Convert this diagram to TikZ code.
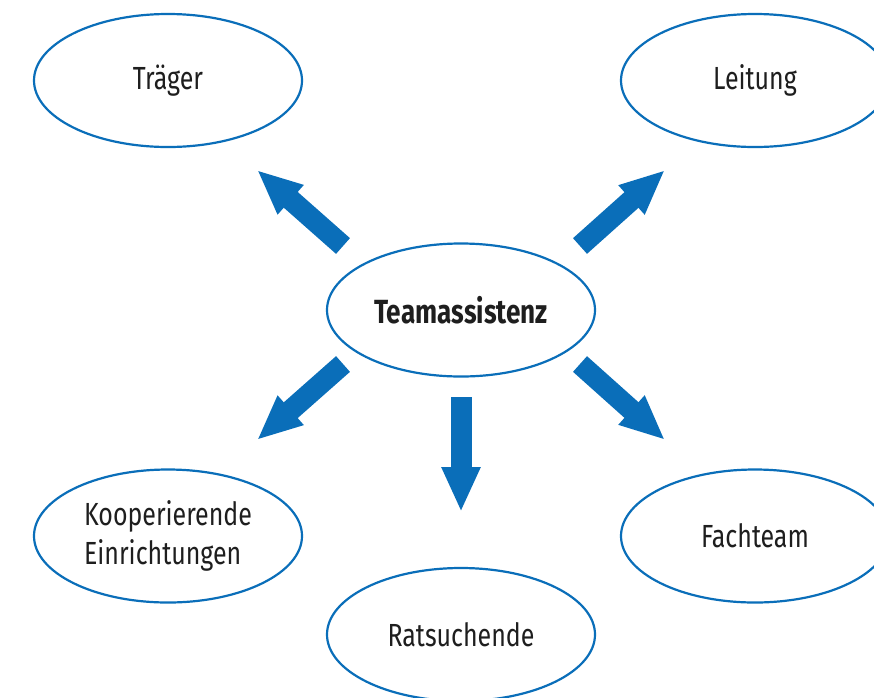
\documentclass[tikz,border=0pt]{standalone}
\usepackage{fontspec}
\setmainfont{Fira Sans}[FakeStretch=0.78]
\usetikzlibrary{shapes.geometric,arrows.meta}
\definecolor{tblue}{RGB}{10,110,185}
\definecolor{ttext}{RGB}{30,30,30}
\begin{document}
\begin{tikzpicture}[x=1pt,y=-1pt,
  oval/.style={ellipse,draw=tblue,line width=2.2pt,fill=white,inner sep=0pt,
    minimum width=268pt,minimum height=133pt,text=ttext,font=\fontsize{32}{39}\selectfont},
  fatarrow/.style={draw=tblue,line width=21pt,line cap=butt,
    -{Triangle[width=36pt,length=45pt]}}]
\useasboundingbox (0,0) rectangle (874,697);
\node[oval] (traeger) at (168,80.5) {Träger};
\node[oval] (leitung) at (755,80.5) {Leitung};
\node[oval,font=\bfseries\fontsize{33.5}{39}\selectfont] (team) at (461,310) {Teamassistenz};
\node[oval,align=left] (koop) at (168,536) {Kooperierende\\Einrichtungen};
\node[oval] (fach) at (755,536) {Fachteam};
\node[oval] (rat) at (461,634.5) {Ratsuchende};
% arrow ends
\coordinate (t1) at (343,246); \coordinate (h1) at (257,170);
\coordinate (t2) at (580,246); \coordinate (h2) at (665,170);
\coordinate (t3) at (343,364); \coordinate (h3) at (257,440);
\coordinate (t4) at (580,364); \coordinate (h4) at (665,440);
\coordinate (t5) at (461,397); \coordinate (h5) at (461,512);
\draw[fatarrow] (t1) -- (h1);
\draw[fatarrow] (t2) -- (h2);
\draw[fatarrow] (t3) -- (h3);
\draw[fatarrow] (t4) -- (h4);
\draw[fatarrow] (t5) -- (h5);
\end{tikzpicture}
\end{document}
